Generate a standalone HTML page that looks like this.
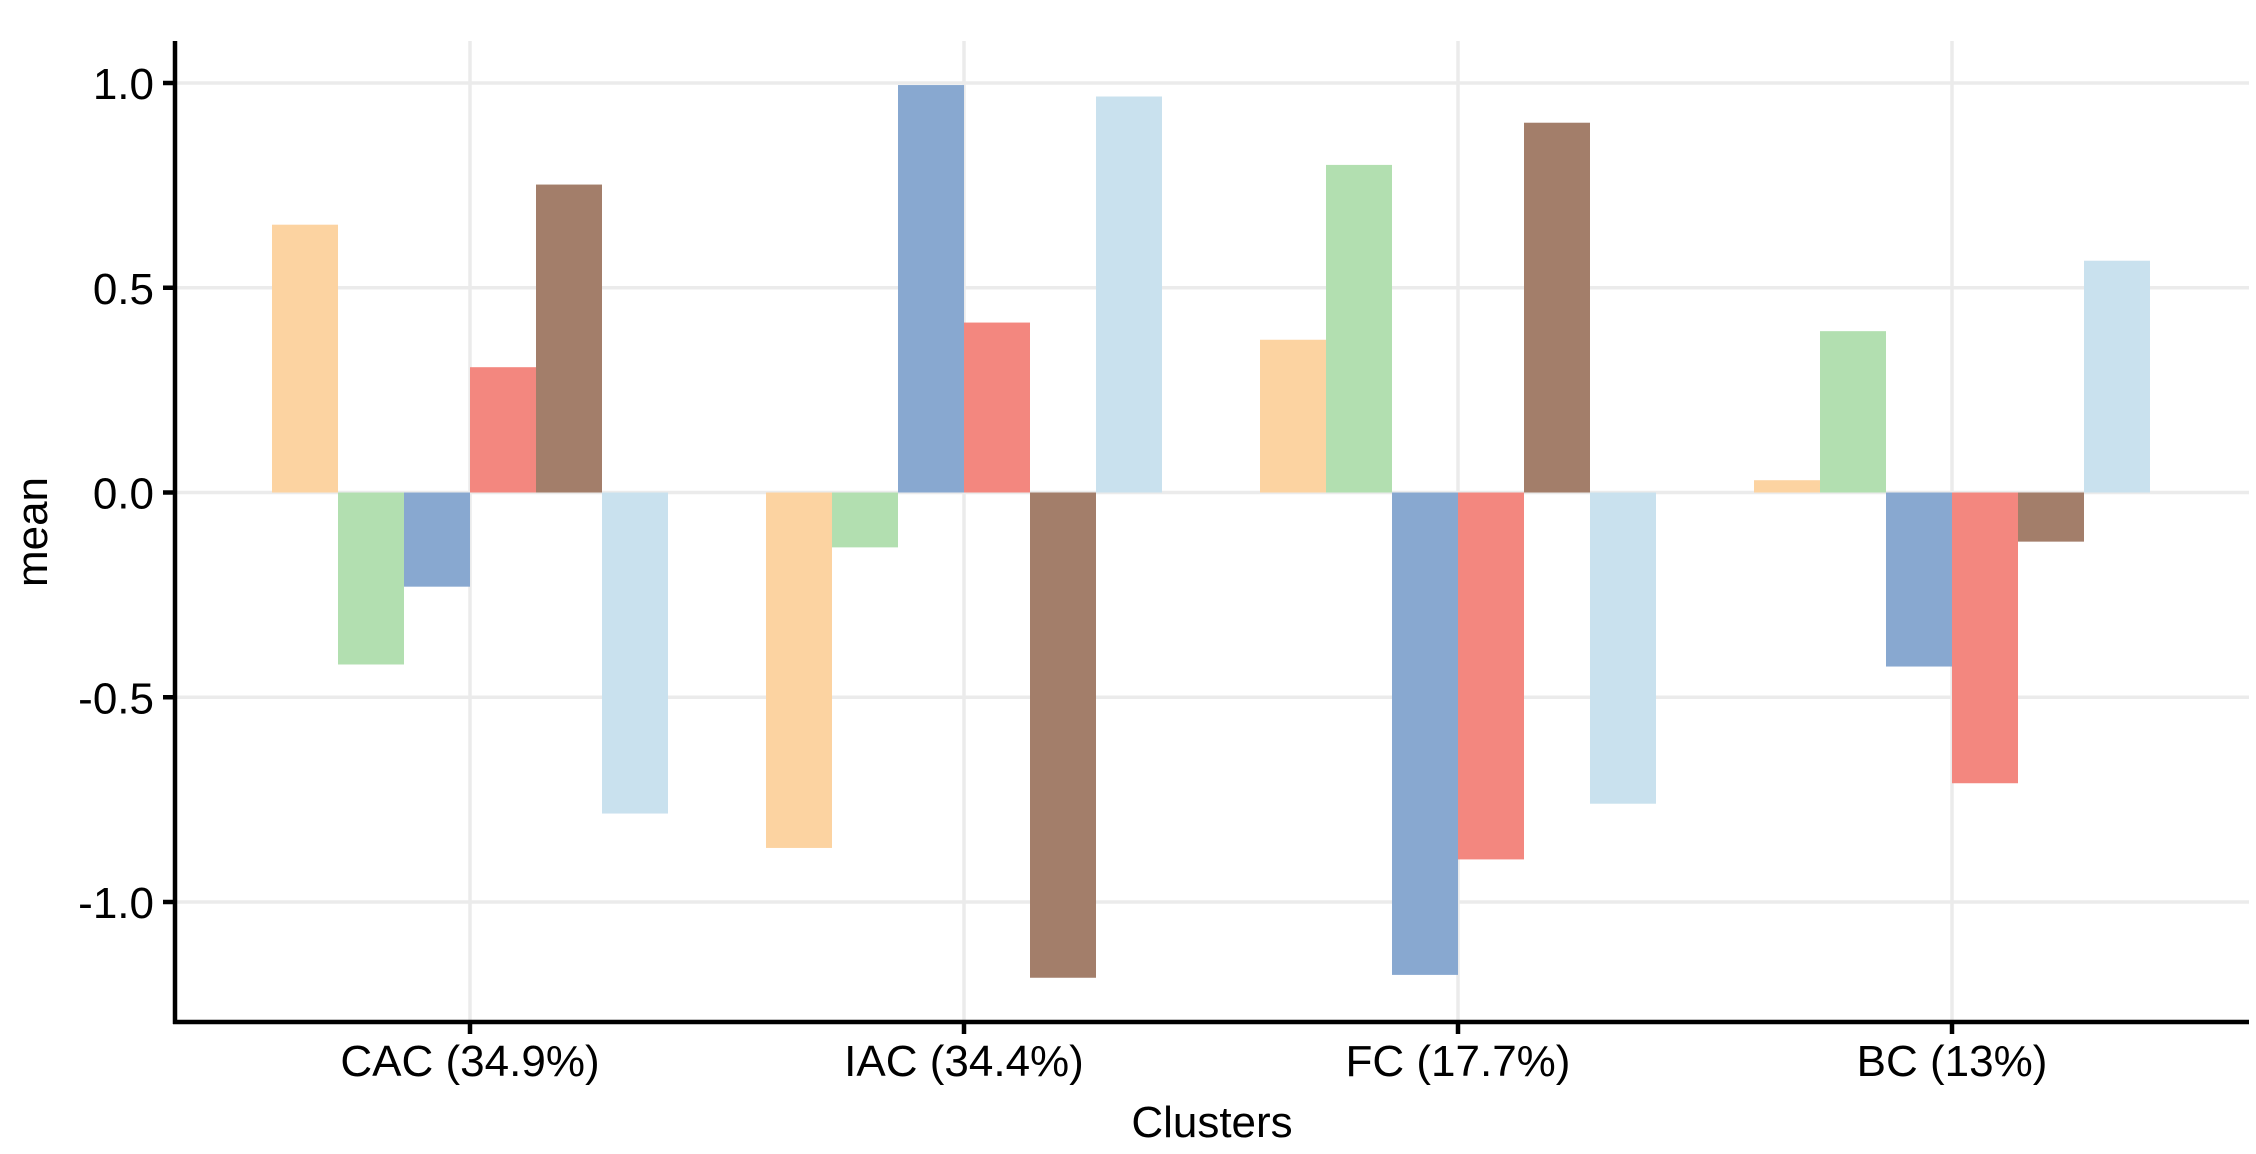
<!DOCTYPE html>
<html><head><meta charset="utf-8"><style>
html,body{margin:0;padding:0;background:#fff;}
svg{display:block;font-family:"Liberation Sans",sans-serif;}
</style></head><body>
<svg id="chart" width="2256" height="1154" viewBox="0 0 2256 1154"></svg>
<script>
const categories = ["CAC (34.9%)", "IAC (34.4%)", "FC (17.7%)", "BC (13%)"];
const seriesOrange = [0.654, -0.868, 0.373, 0.03];
const seriesGreen = [-0.42, -0.134, 0.80, 0.394];
const seriesBlue = [-0.23, 0.995, -1.178, -0.425];
const seriesRed = [0.306, 0.415, -0.896, -0.71];
const seriesBrown = [0.752, -1.185, 0.903, -0.12];
const seriesLightBlue = [-0.784, 0.967, -0.76, 0.566];
const yTicks = [1.0, 0.5, 0.0, -0.5, -1.0];
const yTickLabels = ["1.0", "0.5", "0.0", "-0.5", "-1.0"];

const NS = "http://www.w3.org/2000/svg";
const svg = document.getElementById("chart");
const L = 175, R = 2249, T = 41, B = 1022;
const y0px = 492.5, unitPx = 409.5;
function yScale(v){ return y0px - v * unitPx; }
const step = 494, firstX = 470;
function xScale(i){ return firstX + i * step; }
const barW = 66;
function mk(tag, attrs){ const e = document.createElementNS(NS, tag); for (const k in attrs) e.setAttribute(k, attrs[k]); svg.appendChild(e); return e; }

// gridlines
yTicks.forEach((t, i) => {
  const g = mk("line", {x1: L, x2: R, y1: yScale(t), y2: yScale(t), stroke: "#ebebeb", "stroke-width": 3.5});
  
  
});
categories.forEach((c, i) => {
  const g = mk("line", {x1: xScale(i), x2: xScale(i), y1: T, y2: B, stroke: "#ebebeb", "stroke-width": 3.5});
  
  
});

const series = [
  {vals: seriesOrange, color: "#fcd3a1", name: "orange"},
  {vals: seriesGreen, color: "#b2dfb0", name: "green"},
  {vals: seriesBlue, color: "#88a8d0", name: "blue"},
  {vals: seriesRed, color: "#f3877f", name: "red"},
  {vals: seriesBrown, color: "#a37e6a", name: "brown"},
  {vals: seriesLightBlue, color: "#c9e1ee", name: "light-blue"}
];
series.forEach((s, si) => {
  s.vals.forEach((v, ci) => {
    const x = xScale(ci) - 3 * barW + si * barW;
    const ya = yScale(v), yb = yScale(0);
    const r = mk("rect", {x: x, y: Math.min(ya, yb), width: barW, height: Math.abs(yb - ya), fill: s.color});
    
    
  });
});

// axes
const ax = mk("line", {x1: L, x2: L, y1: T, y2: B + 2, stroke: "#000", "stroke-width": 4.5});


const bx = mk("line", {x1: L - 2, x2: R, y1: B, y2: B, stroke: "#000", "stroke-width": 4.5});



yTicks.forEach((t, i) => {
  const tk = mk("line", {x1: L - 12, x2: L, y1: yScale(t), y2: yScale(t), stroke: "#000", "stroke-width": 4.5});
  
  
  const tx = mk("text", {x: 154, y: yScale(t) + 16, "text-anchor": "end", "font-size": 44, fill: "#000"});
  tx.textContent = yTickLabels[i];
  
  
});
categories.forEach((c, i) => {
  const tk = mk("line", {x1: xScale(i), x2: xScale(i), y1: B, y2: B + 12, stroke: "#000", "stroke-width": 4.5});
  
  
  const tx = mk("text", {x: xScale(i), y: 1076, "text-anchor": "middle", "font-size": 44, fill: "#000"});
  tx.textContent = c;
  
  
});

const xt = mk("text", {x: (L + R) / 2, y: 1137, "text-anchor": "middle", "font-size": 44, fill: "#000"});
xt.textContent = "Clusters";


const yt = mk("text", {x: 0, y: 0, "text-anchor": "middle", "font-size": 44, fill: "#000", transform: "translate(47,532) rotate(-90)"});
yt.textContent = "mean";


</script>
</body></html>
